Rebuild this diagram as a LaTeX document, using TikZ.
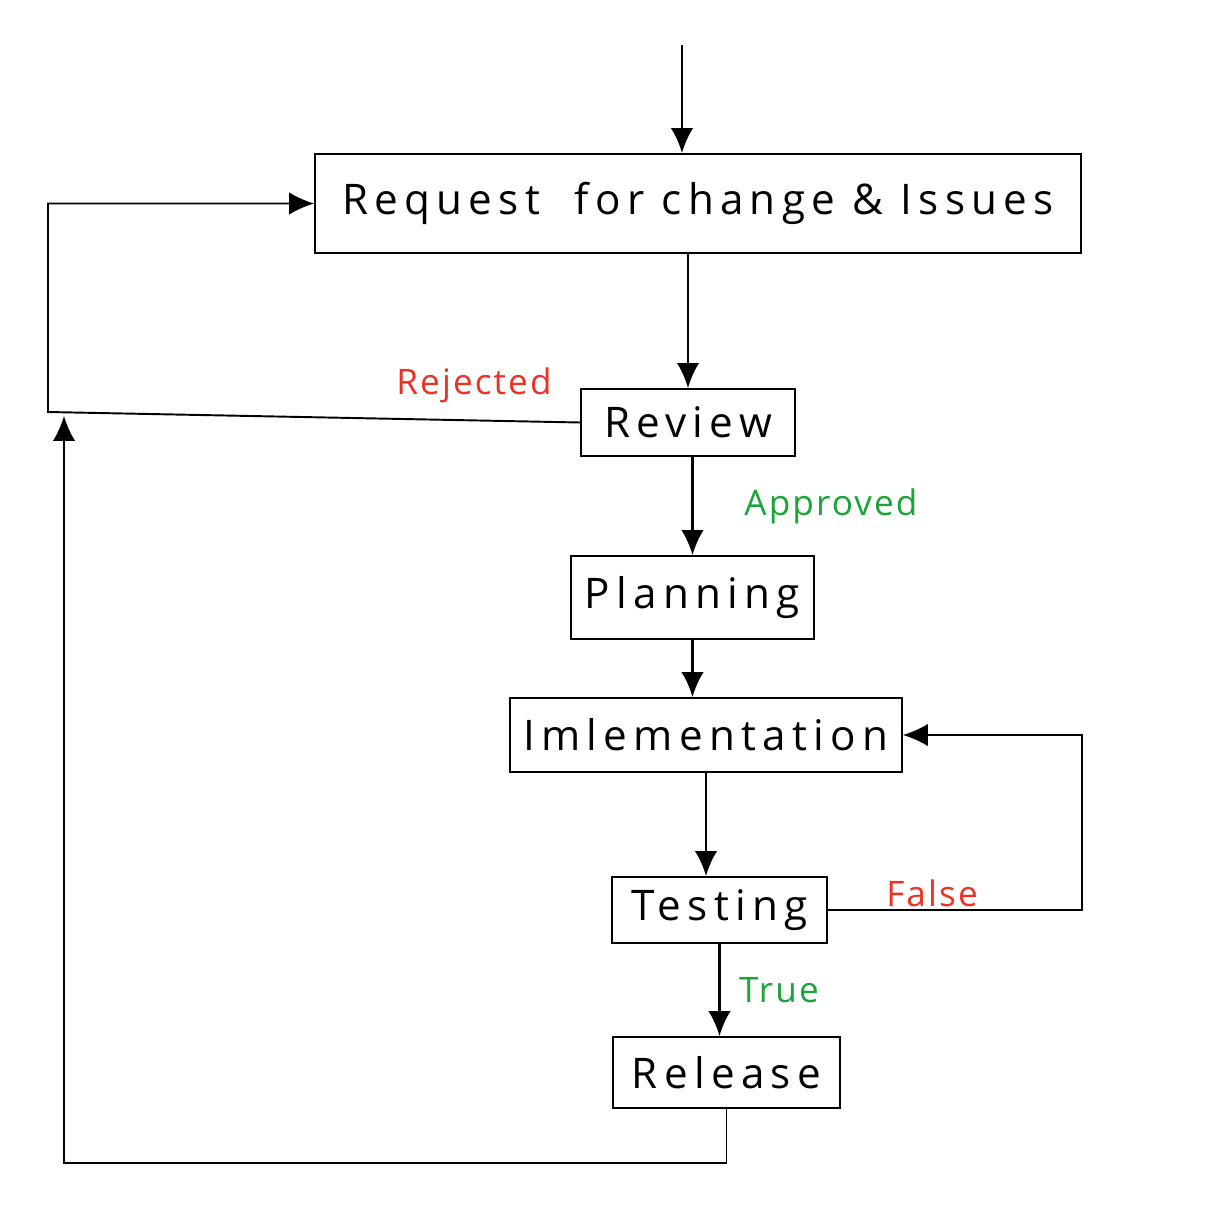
\documentclass[tikz,border=0pt]{standalone}
\usepackage{fontspec}
\setmainfont{Open Sans}[LetterSpace=15]
\usetikzlibrary{arrows.meta}
\definecolor{rejred}{RGB}{235,50,35}
\definecolor{okgreen}{RGB}{25,165,55}
\begin{document}
\begin{tikzpicture}[x=0.02cm,y=-0.02cm,
		stage/.style={rectangle,draw,line width=1.1pt,inner sep=0pt,font=\fontsize{24}{28}\selectfont},
		flow/.style={-{Latex[length=0.5cm,width=0.45cm]},draw,line width=1.4pt},
		lbl/.style={font=\fontsize{20}{24}\selectfont\addfontfeatures{LetterSpace=6}}]
				\useasboundingbox (0,0) rectangle (1220,1206);
				% stages
				\node[stage,minimum width=15.32cm,minimum height=1.98cm] (request) at (698,203.5) {Request\ \ for change \& Issues};
				\node[stage,minimum width=4.28cm,minimum height=1.34cm] (review) at (688,422.5) {Review};
				\node[stage,minimum width=4.86cm,minimum height=1.66cm] (planning) at (692.5,597.5) {Planning};
				\node[stage,minimum width=7.84cm,minimum height=1.48cm] (imp) at (706,735) {Imlementation};
				\node[stage,minimum width=4.30cm,minimum height=1.32cm] (testing) at (719.5,910) {Testing};
				\node[stage,minimum width=4.54cm,minimum height=1.42cm] (release) at (726.5,1072.5) {Release};
				% labels
				\node[lbl,text=rejred] (rejected) at (474,385) {Rejected};
				\node[lbl,text=okgreen] (approved) at (831,506) {Approved};
				\node[lbl,text=rejred] (lblfalse) at (932,893) {False};
				\node[lbl,text=okgreen] (lbltrue) at (779,990) {True};
				% loose ends
				\coordinate (entry) at (682,45);
				\coordinate (rejcorner) at (48,412);
				\coordinate (falsecorner) at (1082,0);
				\coordinate (loopcorner) at (64,1163);
				\coordinate (loopjoin) at (64,416);
				% main flow
				\path[flow] (entry) -- (entry |- request.north);
				\path[flow] (review.north |- request.south) -- (review.north);
				\path[flow] (planning.north |- review.south) -- (planning.north);
				\path[flow] (planning.south) -- (planning.south |- imp.north);
				\path[flow] (imp.south) -- (imp.south |- testing.north);
				\path[flow] (testing.south) -- (testing.south |- release.north);
				% loops back
				\path[flow,line width=1.1pt] (review.west) -- (rejcorner) |- (request.west);
				\path[flow,line width=1.1pt] (testing.east) -- (testing.east -| falsecorner) |- (imp.east);
				\path[flow,line width=1.1pt] (release.south) |- (loopcorner) -- (loopjoin);
			\end{tikzpicture}
\end{document}
